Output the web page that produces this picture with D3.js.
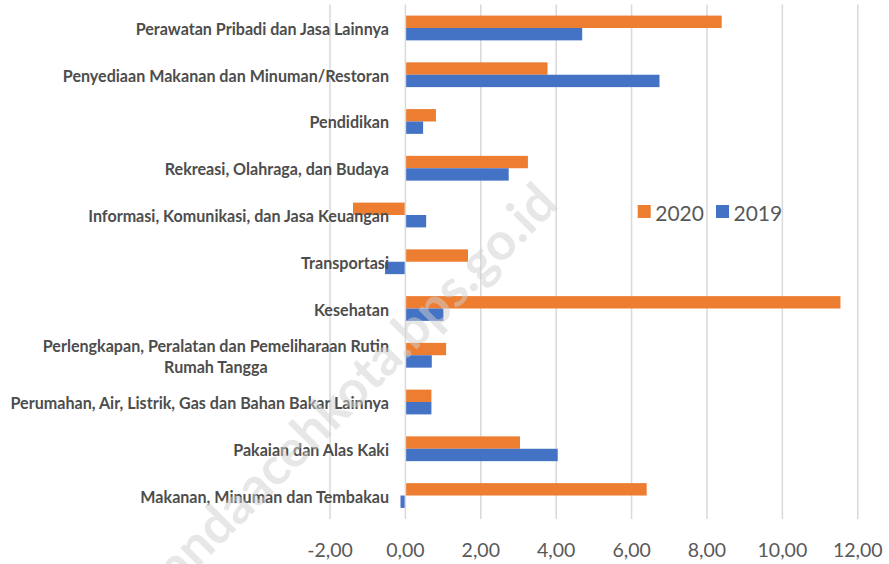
<html>
<head>
    <meta charset="utf-8">
    <script src="https://d3js.org/d3.v7.min.js"></script>
    <style>
        body { margin: 0; background: #fff; }
        text { font-family: Lato, "Open Sans", sans-serif; }
    </style>
</head>
<body>
    <svg id="chart" width="889" height="564"></svg>
    <script>
        // categories top to bottom, "\n" marks the label wrap
        const categories = [
            "Perawatan Pribadi dan Jasa Lainnya",
            "Penyediaan Makanan dan Minuman/Restoran",
            "Pendidikan",
            "Rekreasi, Olahraga, dan Budaya",
            "Informasi, Komunikasi, dan Jasa Keuangan",
            "Transportasi",
            "Kesehatan",
            "Perlengkapan, Peralatan dan Pemeliharaan Rutin\nRumah Tangga",
            "Perumahan, Air, Listrik, Gas dan Bahan Bakar Lainnya",
            "Pakaian dan Alas Kaki",
            "Makanan, Minuman dan Tembakau"
        ]
        const series = ["2020", "2019"]
        const values2020 = [8.37, 3.75, 0.79, 3.23, -1.37, 1.64, 11.52, 1.06, 0.67, 3.02, 6.38]
        const values2019 = [4.67, 6.72, 0.45, 2.72, 0.53, -0.52, 0.99, 0.68, 0.67, 4.02, -0.11]
        const ticks = [-2, 0, 2, 4, 6, 8, 10, 12]
        const watermark = "bandaacehkota.bps.go.id"

        const colors = {"2020": "#ED7D31", "2019": "#4472C4"}
        const locale = d3.formatLocale({decimal: ",", thousands: ".", grouping: [3], currency: ["", ""], minus: "-"})
        const fmt = locale.format(".2f")

        const data = categories.map((c, i) => ({cat: c, "2020": values2020[i], "2019": values2019[i]}))

        const svg = d3.select("#chart")

        const x = d3.scaleLinear().domain([-2, 12]).range([330, 857.8])
        const y0 = d3.scaleBand().domain(categories).range([4.6, 518.9])
            .paddingInner(0.47).paddingOuter(0.235)
        const y1 = d3.scaleBand().domain(series).range([0, y0.bandwidth()])

        // gridlines
        svg.append("g").selectAll("line")
            .data(ticks)
            .enter().append("line")
            .attr("x1", d => x(d)).attr("x2", d => x(d))
            .attr("y1", 4.6).attr("y2", 518.9)
            .attr("stroke", "#d9d9d9")
            .attr("stroke-width", 1.5)

        // tick labels
        svg.append("g").selectAll("text")
            .data(ticks)
            .enter().append("text")
            .attr("x", d => x(d))
            .attr("y", 549)
            .attr("text-anchor", "middle")
            .attr("dominant-baseline", "central")
            .attr("fill", "#595959")
            .style("font-size", "19.5px")
            .text(d => fmt(d))

        // bars
        let groups = svg.append("g").selectAll("g")
            .data(data)
            .enter().append("g")
            .attr("transform", d => `translate(0,${y0(d.cat)})`)

        groups.selectAll("rect")
            .data(d => series.map(k => ({key: k, value: d[k]})))
            .enter().append("rect")
            .attr("x", d => x(Math.min(0, d.value)) + (d.value >= 0 ? 0.75 : -0.75))
            .attr("y", d => y1(d.key))
            .attr("width", d => Math.abs(x(d.value) - x(0)))
            .attr("height", y1.bandwidth())
            .attr("fill", d => colors[d.key])

        // category labels
        let labelRight = 389
        let labels = svg.append("g").selectAll("text")
            .data(categories)
            .enter().append("text")
            .attr("fill", "#4d4d4d")
            .style("font-size", "16.1px")
            .style("font-weight", "bold")
            .attr("dominant-baseline", "central")

        labels.each(function(c) {
            let lines = c.split("\n")
            let t = d3.select(this)
            let cy = y0(c) + y0.bandwidth() / 2
            let lh = 21
            lines.forEach((l, i) => {
                t.append("tspan")
                    .attr("x", labelRight)
                    .attr("y", cy + (i - (lines.length - 1) / 2) * lh)
                    .text(l)
            })
            if (lines.length > 1) {
                let w = d3.max(t.selectAll("tspan").nodes(), n => n.getComputedTextLength())
                t.attr("text-anchor", "middle")
                t.selectAll("tspan").attr("x", labelRight - w / 2)
            } else {
                t.attr("text-anchor", "end")
            }
        })

        // legend
        let legend = svg.append("g").selectAll("g")
            .data(series)
            .enter().append("g")
            .attr("transform", (d, i) => `translate(${637.7 + i * 78.3},205)`)
        legend.append("rect")
            .attr("width", 13).attr("height", 13)
            .attr("fill", d => colors[d])
        legend.append("text")
            .attr("x", 17.5).attr("y", 7)
            .attr("dominant-baseline", "central")
            .attr("fill", "#595959")
            .style("font-size", "21px")
            .text(d => d)

        // watermark
        svg.append("text")
            .attr("transform", "translate(560,206) rotate(-45)")
            .attr("text-anchor", "end")
            .attr("fill", "#d0d0d0")
            .attr("opacity", 0.5)
            .style("font-size", "52px")
            .style("font-weight", "bold")
            .text(watermark)
    </script>
</body>
</html>
